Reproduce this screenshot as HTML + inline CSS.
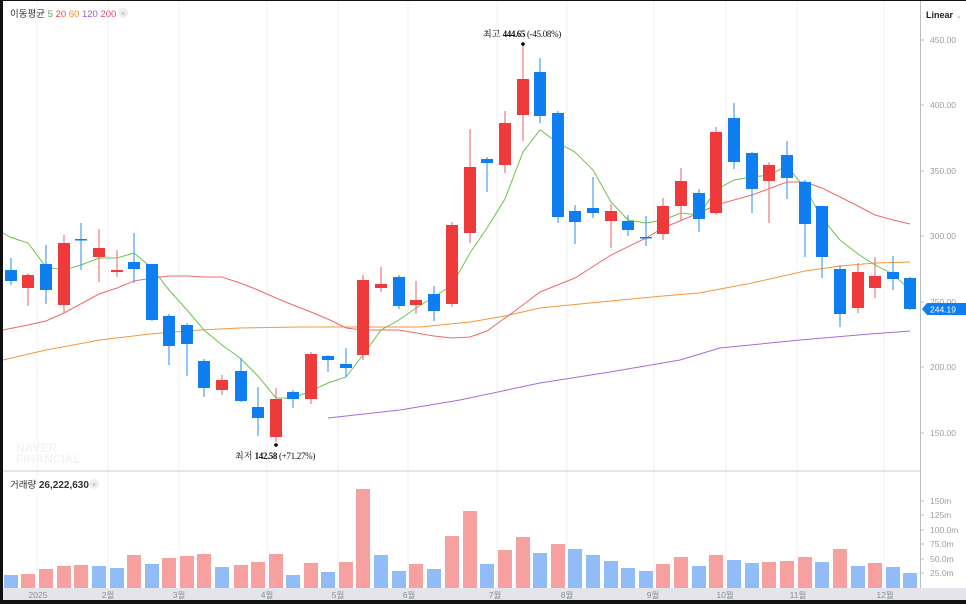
<!DOCTYPE html>
<html><head><meta charset="utf-8"><style>
html,body{margin:0;padding:0;background:#111;}
svg{display:block;}
text{font-family:"Liberation Sans","Noto Sans CJK KR",sans-serif;}
text.sf{font-family:"Liberation Serif","Noto Serif CJK SC",serif;}
</style></head><body>
<svg width="966" height="604" viewBox="0 0 966 604" xmlns="http://www.w3.org/2000/svg">
<rect x="0" y="0" width="966" height="604" fill="#111"/>
<rect x="3" y="1" width="963" height="599" fill="#fff"/>
<g stroke="#f1f2f4" stroke-width="1">
<line x1="37" y1="2" x2="37" y2="588"/><line x1="108" y1="2" x2="108" y2="588"/><line x1="179" y1="2" x2="179" y2="588"/><line x1="267" y1="2" x2="267" y2="588"/><line x1="338" y1="2" x2="338" y2="588"/><line x1="408" y1="2" x2="408" y2="588"/><line x1="497" y1="2" x2="497" y2="588"/><line x1="567" y1="2" x2="567" y2="588"/><line x1="654" y1="2" x2="654" y2="588"/><line x1="726" y1="2" x2="726" y2="588"/><line x1="797" y1="2" x2="797" y2="588"/><line x1="884" y1="2" x2="884" y2="588"/>
</g>
<line x1="3" y1="471" x2="920" y2="471" stroke="#c9ccd2"/>
<line x1="920.5" y1="1" x2="920.5" y2="588" stroke="#b8bcc4"/>
<rect x="3" y="588" width="963" height="12" fill="#e3e5ea"/>
<g fill="#8a8f98" font-size="8.5" text-anchor="middle">
<text x="38" y="598">2025</text><text x="108" y="598">2월</text><text x="179" y="598">3월</text><text x="267" y="598">4월</text><text x="338" y="598">5월</text><text x="409" y="598">6월</text><text x="495" y="598">7월</text><text x="567" y="598">8월</text><text x="653" y="598">9월</text><text x="725" y="598">10월</text><text x="798" y="598">11월</text><text x="885" y="598">12월</text>
</g>
<text x="10" y="17" font-size="9.5" fill="#333">이동평균 <tspan fill="#53b43d">5</tspan> <tspan fill="#ef4b4b">20</tspan> <tspan fill="#f08a24">60</tspan> <tspan fill="#a05ad2">120</tspan> <tspan fill="#e04a7a">200</tspan></text>
<circle cx="123" cy="13" r="5" fill="#eee"/><text x="123" y="16" font-size="7" fill="#aaa" text-anchor="middle">×</text>
<text x="10" y="488" font-size="9.5" fill="#333">거래량 <tspan font-weight="bold" font-size="10">26,222,630</tspan></text>
<circle cx="94" cy="484" r="5" fill="#eee"/><text x="94" y="487" font-size="7" fill="#aaa" text-anchor="middle">×</text>
<text x="16" y="452" font-size="12" font-weight="bold" fill="#f3f4f6">NAVER</text>
<text x="16" y="463" font-size="12" font-weight="bold" fill="#f3f4f6">FINANCIAL</text>
<text x="926" y="18" font-size="9" font-weight="bold" fill="#222">Linear</text><text x="956" y="18" font-size="7" fill="#999">⌄</text>
<g fill="#9a9ea6" font-size="8.5">
<text x="930" y="43">450.00</text><text x="930" y="108">400.00</text><text x="930" y="174">350.00</text><text x="930" y="239">300.00</text><text x="930" y="370">200.00</text><text x="930" y="436">150.00</text>
<text x="930" y="504">150m</text><text x="930" y="518">125m</text><text x="930" y="533">100.0m</text><text x="930" y="547">75.0m</text><text x="930" y="562">50.0m</text><text x="930" y="576">25.0m</text>
</g>
<g stroke="#b8bcc4"><line x1="920" y1="40" x2="924" y2="40"/><line x1="920" y1="105" x2="924" y2="105"/><line x1="920" y1="171" x2="924" y2="171"/><line x1="920" y1="236" x2="924" y2="236"/><line x1="920" y1="302" x2="924" y2="302"/><line x1="920" y1="367" x2="924" y2="367"/><line x1="920" y1="433" x2="924" y2="433"/><line x1="920" y1="501" x2="924" y2="501"/><line x1="920" y1="515" x2="924" y2="515"/><line x1="920" y1="530" x2="924" y2="530"/><line x1="920" y1="544" x2="924" y2="544"/><line x1="920" y1="559" x2="924" y2="559"/><line x1="920" y1="573" x2="924" y2="573"/></g>
<text x="930" y="305" font-size="8.5" fill="#9a9ea6">250.00</text>
<path d="M922 309 L927 303 L966 303 L966 315 L927 315 Z" fill="#0f7ef0"/>
<text x="930" y="312.5" font-size="8.5" fill="#fff">244.19</text>
<g id="vol"></g>
<g id="mas" fill="none" stroke-width="1">
<polyline stroke="#a66bd6" points="328,418 400,410 460,400 540,383 610,372 680,360 720,348 800,340 870,334 910,331"/>
<polyline stroke="#f5973c" points="3,360 46,350 100,340 150,334 200,330 240,328 300,327 363,327 420,327 470,322 505,316 540,308 600,302 663,296 699,293 752,283 805,271 840,266 875,263 910,262"/>
<polyline stroke="#f06a6a" points="3,330 28,325 46,321 64,313 99,294 117,288 134,281 152,278 169,276 187,276 204,277 222,277 240,283 258,290 276,298 293,305 311,312 330,320 346,328 363,330 399,330 434,336 452,338 470,337 487,331 505,318 523,305 540,292 575,278 611,255 646,238 663,228 699,213 716,205 752,195 787,182 805,182 822,188 840,197 858,206 875,215 893,220 910,224"/>
<polyline stroke="#6cc24a" points="3,233 10,237 28,243 46,267 64,270 81,265 99,258 117,258 134,253 152,268 169,290 187,310 204,330 222,345 240,358 258,376 276,398 293,398 311,391 328,383 346,377 363,355 381,330 399,320 416,308 434,297 452,285 470,253 487,228 505,199 523,152 540,130 558,143 575,152 593,170 611,202 628,220 646,223 663,220 681,213 699,215 716,190 734,180 752,177 769,175 787,166 805,188 822,218 840,240 858,254 875,265 893,274 910,290"/>
</g>
<g id="cdl"></g>
<circle cx="523" cy="44" r="1.8" fill="#000"/>
<text class="sf" x="483" y="37" font-size="9" fill="#111">최고 <tspan font-weight="bold" letter-spacing="-0.4">444.65</tspan><tspan letter-spacing="-0.3"> (-45.08%)</tspan></text>
<circle cx="276" cy="445" r="1.8" fill="#000"/>
<text class="sf" x="235" y="459" font-size="9" fill="#111">최저 <tspan font-weight="bold" letter-spacing="-0.4">142.58</tspan><tspan letter-spacing="-0.3"> (+71.27%)</tspan></text>
</svg>
<script>
var ns="http://www.w3.org/2000/svg";
var C=[[11,270,281,258,285,0],[28,275,288,273,306,1],[46,264,290,245,304,0],[64,243,305,235,313,1],[81,239,240,223,270,0],[99,248,257,229,282,1],[117,270,272,250,277,1],[134,262,269,233,283,0],[152,264,320,264,321,0],[169,316,346,314,365,0],[187,325,344,323,376,0],[204,361,388,359,397,0],[222,380,390,375,395,1],[241,371,401,358,402,0],[258,407,418,387,436,0],[276,399,437,388,442,1],[293,392,399,390,408,0],[311,354,399,352,404,1],[328,356,360,355,372,0],[346,364,368,348,377,0],[363,280,355,275,360,1],[381,284,288,267,292,1],[399,277,306,275,309,0],[416,300,305,281,314,1],[434,294,311,286,321,0],[452,225,304,222,307,1],[470,167,233,129,243,1],[487,159,163,157,192,0],[505,123,165,111,173,1],[523,79,115,45,141,1],[540,72,116,58,123,0],[558,113,217,111,223,0],[575,211,222,205,244,0],[593,208,213,177,218,0],[611,211,221,204,248,1],[628,221,230,215,236,0],[646,237,238,216,246,0],[663,206,234,198,240,1],[681,181,206,168,221,1],[699,193,219,189,232,0],[716,132,213,127,215,1],[734,118,162,103,169,0],[752,153,189,152,213,0],[769,165,181,162,223,1],[787,155,178,141,199,0],[805,182,224,180,257,0],[822,206,257,206,278,0],[840,269,314,265,327,0],[858,272,308,263,313,1],[875,276,288,257,298,1],[893,272,279,256,290,0],[910,278,309,277,310,0]];
var V=[[575,0],[574,1],[569,1],[566,1],[565,1],[566,0],[568,0],[555,1],[564,0],[558,1],[556,1],[554,1],[567,0],[565,1],[562,1],[554,1],[575,0],[563,1],[572,0],[562,1],[489,1],[555,0],[571,0],[564,1],[569,0],[536,1],[511,1],[564,0],[550,1],[537,1],[553,0],[544,1],[549,0],[555,0],[561,0],[568,0],[571,0],[564,1],[557,1],[566,0],[555,1],[560,0],[563,0],[562,1],[561,1],[557,1],[562,0],[549,1],[566,0],[563,1],[567,0],[573,0]];
function el(t,a,p){var e=document.createElementNS(ns,t);for(var k in a)e.setAttribute(k,a[k]);p.appendChild(e);}
var g=document.getElementById("cdl"),vg=document.getElementById("vol");
C.forEach(function(c,i){var col=c[5]?"#ef3a3c":"#0f7ef0";var wc=c[5]?"#f07a7c":"#4a9ef5";
el("line",{x1:c[0],x2:c[0],y1:c[3],y2:c[4],stroke:wc,"stroke-width":1.2},g);
el("rect",{x:c[0]-6,y:c[1],width:12,height:Math.max(1.5,c[2]-c[1]),fill:col},g);
var v=V[i];el("rect",{x:c[0]-7,y:v[0],width:14,height:588-v[0],fill:v[1]?"#f6a09f":"#91bcf7"},vg);});
</script>
</body></html>
